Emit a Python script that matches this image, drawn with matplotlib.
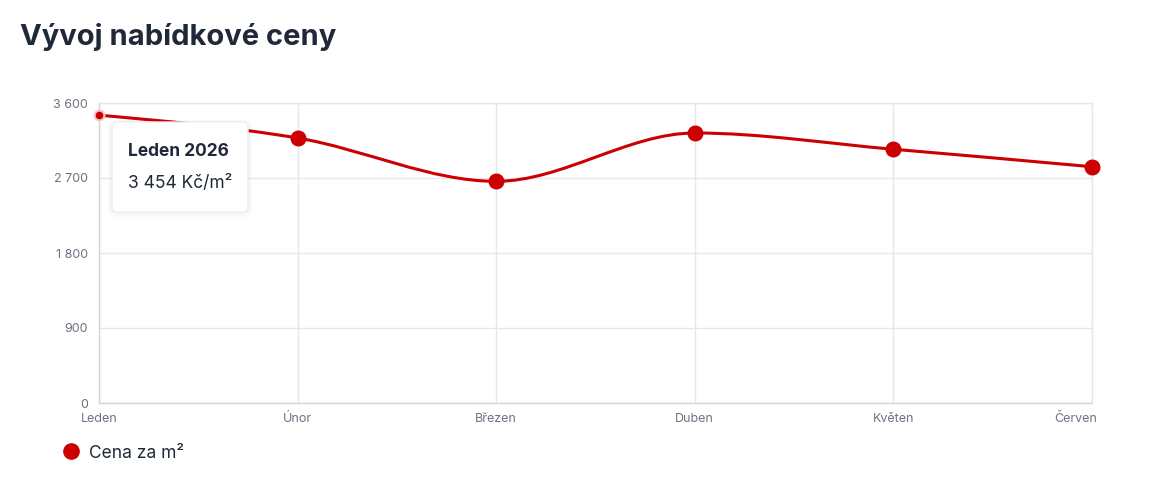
import numpy as np
import matplotlib.pyplot as plt
import matplotlib.transforms as mtrans
from matplotlib.path import Path
from matplotlib.patches import PathPatch, FancyBboxPatch
from matplotlib.lines import Line2D

plt.rcParams['font.family'] = ['Inter', 'DejaVu Sans']

# data
months = ['Leden', 'Únor', 'Březen', 'Duben', 'Květen', 'Červen']
prices = [3454, 3180, 2660, 3240, 3045, 2835]
y_ticks = [0, 900, 1800, 2700, 3600]
y_tick_labels = ['0', '900', '1 800', '2 700', '3 600']
title = 'Vývoj nabídkové ceny'
tip_title = 'Leden 2026'
tip_value = '3 454 Kč/m²'
legend_label = 'Cena za m²'

red = '#cc0000'
grid_c = '#e5e7eb'
tick_c = '#6b7280'
dark = '#1f2937'


def monotone_path(xs, ys):  # monotone cubic (d3 monotoneX) jako bezier path
    xs = np.asarray(xs, float)
    ys = np.asarray(ys, float)
    n = len(xs)
    h = np.diff(xs)
    s = np.diff(ys) / h
    t = np.zeros(n)
    for i in range(1, n - 1):
        p = (s[i-1] * h[i] + s[i] * h[i-1]) / (h[i-1] + h[i])
        t[i] = (np.sign(s[i-1]) + np.sign(s[i])) * min(abs(s[i-1]), abs(s[i]), 0.5 * abs(p))
    t[0] = (3 * s[0] - t[1]) / 2
    t[-1] = (3 * s[-1] - t[-2]) / 2
    verts = [(xs[0], ys[0])]
    codes = [Path.MOVETO]
    for i in range(n - 1):
        dx = h[i] / 3
        verts += [(xs[i] + dx, ys[i] + dx * t[i]),
                  (xs[i+1] - dx, ys[i+1] - dx * t[i+1]),
                  (xs[i+1], ys[i+1])]
        codes += [Path.CURVE4] * 3
    return Path(verts, codes)


W, H = 1157, 490
fig = plt.figure(figsize=(W / 100, H / 100), dpi=100)
ax = fig.add_axes([99 / W, 1 - 403 / H, (1092 - 99) / W, 300 / H])

x = np.arange(len(months))
ax.set_xlim(0, len(months) - 1)
ax.set_ylim(0, 3600)
ax.set_yticks(y_ticks)
ax.set_yticklabels(y_tick_labels)
ax.set_xticks(x)
ax.set_xticklabels(months)
ax.tick_params(axis='both', length=0, labelsize=9, colors=tick_c)
ax.tick_params(axis='y', pad=8)
ax.tick_params(axis='x', pad=7)
ax.grid(True, color=grid_c, linewidth=1)
ax.set_axisbelow(True)
for sp in ax.spines.values():
    sp.set_color(grid_c)
    sp.set_linewidth(1)
ax.spines['left'].set_color('#d1d5db')
ax.spines['bottom'].set_color('#d1d5db')

# posledni popisek posunout dovnitr
lbls = ax.get_xticklabels()
lbls[-1].set_ha('right')
lbls[-1].set_transform(lbls[-1].get_transform() + mtrans.ScaledTranslation(0.05, 0, fig.dpi_scale_trans))

ax.add_patch(PathPatch(monotone_path(x, prices), fill=False, edgecolor=red,
                       linewidth=2.2, zorder=3, clip_on=False, capstyle='round'))
ax.plot(x[1:], prices[1:], 'o', color=red, ms=10.5, mec=red, zorder=4, clip_on=False)
ax.plot(x[:1], prices[:1], 'o', color=red, ms=7, mec='#f5c6c6', mew=1.5, zorder=4, clip_on=False)

fig.text(20 / W, 1 - 37 / H, title, fontsize=21, fontweight='bold', color=dark, va='center')

# tooltip
bx, by, bw, bh = 112 / 100, (H - 212) / 100, 136 / 100, 90 / 100
for k in range(4):
    off = 0.02 + 0.02 * k
    fig.add_artist(FancyBboxPatch((bx - off / 2, by - off * 0.7), bw + off, bh + off,
                                  boxstyle='round,pad=0,rounding_size=0.08',
                                  transform=fig.dpi_scale_trans, facecolor='black',
                                  edgecolor='none', alpha=0.012, zorder=9))
fig.add_artist(FancyBboxPatch((bx, by), bw, bh, boxstyle='round,pad=0,rounding_size=0.05',
                              transform=fig.dpi_scale_trans, facecolor='white',
                              edgecolor='#eceef1', linewidth=1, zorder=10))
fig.text(128 / W, 1 - 151 / H, tip_title, fontsize=12.5, fontweight='bold', color=dark,
         va='center', zorder=11)
fig.text(128 / W, 1 - 183 / H, tip_value, fontsize=12.5, color=dark, va='center', zorder=11)

handle = Line2D([], [], marker='o', ls='', color=red, ms=11)
fig.legend([handle], [legend_label], loc='center left', bbox_to_anchor=(54 / W, 1 - 453 / H),
           frameon=False, fontsize=12.5, handletextpad=0.0, borderaxespad=0, borderpad=0,
           labelcolor=dark)

fig.savefig('out.png', dpi=100)
